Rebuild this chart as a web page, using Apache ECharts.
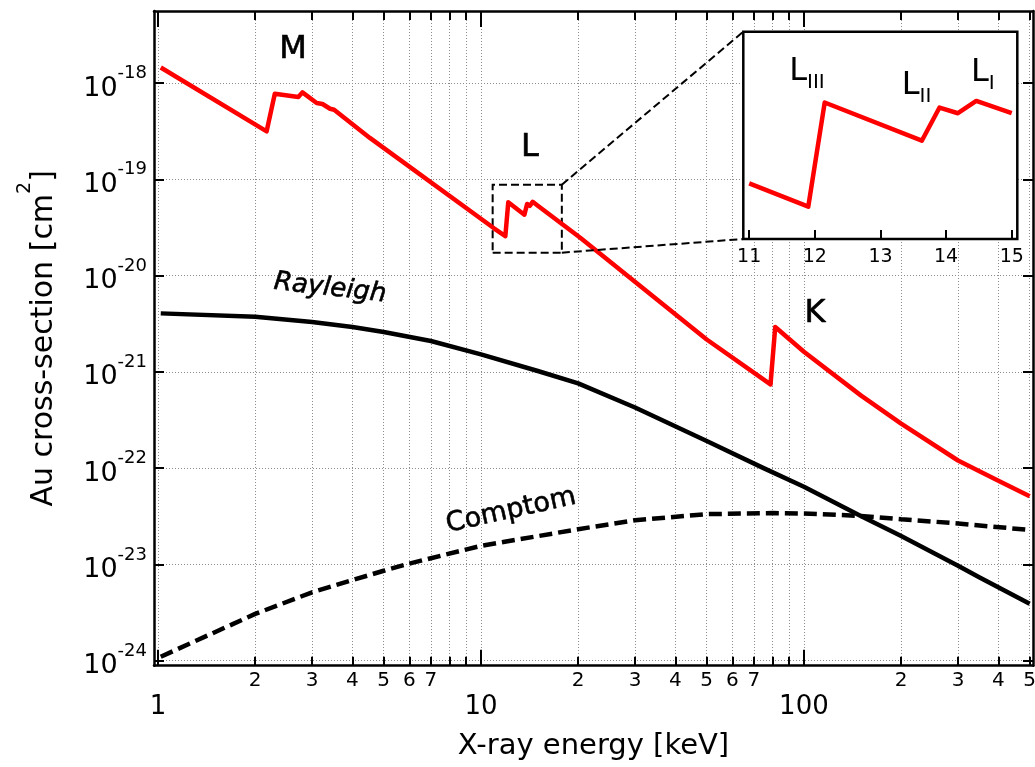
<!DOCTYPE html>
<html>
<head>
<meta charset="utf-8">
<script src="https://cdn.jsdelivr.net/npm/echarts@6/dist/echarts.min.js"></script>
<style>
  html, body { margin: 0; padding: 0; background: #fff; }
  #chart { width: 1035px; height: 767px; }
</style>
</head>
<body>
<div id="chart"></div>
<script>
// Axis ranges: photon energy [keV] and cross-section [cm^2]
const energyRange = [0.972, 512];
const sigmaRange = [8.87e-25, 5.6e-18];

// Tick values
const majorEnergyTicks = [1, 10, 100];
const minorEnergyTicks = [2, 3, 4, 5, 6, 7, 8, 9, 20, 30, 40, 50, 60, 70, 80, 90, 200, 300, 400, 500];
const minorEnergyLabels = [2, 3, 4, 5, 6, 7, 20, 30, 40, 50, 60, 70, 200, 300, 400, 500];
const sigmaTicks = [1e-24, 1e-23, 1e-22, 1e-21, 1e-20, 1e-19, 1e-18];

// Photoabsorption of Au with M, L and K edges: [energy keV, sigma cm^2]
const photoelectric = [
  [1.02, 1.45e-18], [2.17, 3.15e-19], [2.30, 7.74e-19], [2.72, 7.16e-19],
  [2.80, 8.0e-19], [3.10, 6.2e-19], [3.23, 6.06e-19], [3.41, 5.41e-19],
  [3.51, 5.28e-19], [4.53, 2.69e-19], [11.0, 3.08e-20], [11.9, 2.57e-20],
  [12.15, 5.77e-20], [13.63, 4.29e-20], [13.9, 5.55e-20], [14.18, 5.31e-20],
  [14.46, 5.84e-20], [15.0, 5.31e-20], [20.3, 2.47e-20], [50, 2.17e-21],
  [78.8, 7.4e-22], [81.5, 2.92e-21], [100, 1.62e-21], [150, 5.7e-22],
  [200, 2.9e-22], [300, 1.2e-22], [400, 7.4e-23], [500, 5.1e-23]
];

// Coherent (Rayleigh) scattering
const rayleigh = [
  [1.02, 4.05e-21], [2, 3.74e-21], [3, 3.29e-21], [4, 2.92e-21], [5, 2.59e-21],
  [7, 2.09e-21], [10, 1.52e-21], [15, 1.02e-21], [20, 7.6e-22], [30, 4.26e-22],
  [50, 1.91e-22], [75, 1.0e-22], [100, 6.4e-23], [150, 3.19e-23], [200, 1.97e-23],
  [300, 9.7e-24], [350, 7.3e-24], [500, 3.9e-24]
];

// Incoherent (Compton) scattering
const compton = [
  [1.02, 1.10e-24], [2, 3.06e-24], [3, 5.13e-24], [4, 6.87e-24], [5, 8.59e-24],
  [6, 1.02e-23], [7, 1.16e-23], [10, 1.56e-23], [20, 2.32e-23], [30, 2.88e-23],
  [50, 3.33e-23], [80, 3.41e-23], [100, 3.38e-23], [150, 3.19e-23], [200, 2.95e-23],
  [300, 2.66e-23], [500, 2.28e-23]
];

// Magnified L-edge region
const zoomBox = [[10.87, 1.73e-20], [17.8, 8.8e-20]];
const insetEnergyRange = [10.91, 15.085];
const insetSigmaRange = [2e-20, 1e-19];
const insetEnergyTicks = [11, 12, 13, 14, 15];
const insetDataRange = [11, 15];

// Text annotations placed in data coordinates
const edgeLabels = [
  { name: 'M', value: [2.62, 2.24e-18] },
  { name: 'L', value: [14.18, 2.13e-19] },
  { name: 'K', value: [108.2, 4.05e-21] }
];
const curveLabels = [
  { name: 'Rayleigh', value: [3.41, 7.34e-21], rotate: -6.5, style: 'ital' },
  { name: 'Comptom', value: [12.39, 3.6e-23], rotate: 12.5, style: 'curve' }
];
const insetLabels = [
  { name: 'L', sub: 'III', value: [11.88, 7.2e-20] },
  { name: 'L', sub: 'II', value: [13.55, 6.43e-20] },
  { name: 'L', sub: 'I', value: [14.56, 7.14e-20] }
];

const FONT = 'DejaVu Sans';
const lg = Math.log10;
const gridLine = { show: true, lineStyle: { color: '#8c8c8c', width: 1, type: [1, 2] } };
const tickStyle = { color: '#000', width: 2 };
const frameLine = { show: true, onZero: false, lineStyle: { color: '#000', width: 2.5 } };
const hiddenSymbol = { color: 'rgba(0,0,0,0)', opacity: 1 };

// Decorative axis in log10 space, aligned with the hidden log axis that carries the data
function energyDecor(position, ticks, length, extra) {
  return Object.assign({
    type: 'value', gridIndex: 0, position: position,
    min: lg(energyRange[0]), max: lg(energyRange[1]),
    axisLine: { show: false },
    axisTick: { show: true, inside: true, length: length, lineStyle: tickStyle, customValues: ticks.map(lg) },
    axisLabel: { show: false },
    splitLine: { show: false }
  }, extra || {});
}
function sigmaDecor(position, extra) {
  return Object.assign({
    type: 'value', gridIndex: 0, position: position,
    min: lg(sigmaRange[0]), max: lg(sigmaRange[1]),
    axisLine: frameLine,
    axisTick: { show: true, inside: true, length: 10, lineStyle: tickStyle, customValues: sigmaTicks.map(lg) },
    axisLabel: { show: false },
    splitLine: { show: false }
  }, extra || {});
}

const chart = echarts.init(document.getElementById('chart'), null, { renderer: 'canvas' });

const option = {
  animation: false,
  backgroundColor: '#fff',
  textStyle: { fontFamily: FONT, color: '#000' },
  grid: [
    { left: 154, top: 11, width: 879, height: 654.7, show: false, containLabel: false, outerBoundsMode: 'none' },
    { left: 743.3, top: 31.7, width: 274, height: 207.3, show: true, backgroundColor: '#fff',
      borderColor: '#000', borderWidth: 2.5, containLabel: false, outerBoundsMode: 'none', z: 10 }
  ],
  xAxis: [
    { type: 'log', gridIndex: 0, position: 'bottom', min: energyRange[0], max: energyRange[1], show: false },
    energyDecor('bottom', majorEnergyTicks, 16, {
      axisLine: frameLine,
      axisLabel: {
        show: true, customValues: majorEnergyTicks.map(lg), margin: 27,
        fontFamily: FONT, fontSize: 26, lineHeight: 30, color: '#000',
        formatter: v => String(Math.round(Math.pow(10, v)))
      },
      splitLine: gridLine,
      name: 'X-ray energy [keV]', nameLocation: 'middle', nameGap: 64,
      nameTextStyle: { fontFamily: FONT, fontSize: 29, lineHeight: 34, color: '#000' }
    }),
    energyDecor('bottom', minorEnergyTicks, 9, {
      axisLabel: {
        show: true, customValues: minorEnergyLabels.map(lg), margin: 4,
        fontFamily: FONT, fontSize: 20, lineHeight: 22, color: '#000',
        formatter: v => String(Math.round(Math.pow(10, v))).charAt(0)
      },
      splitLine: gridLine
    }),
    energyDecor('top', majorEnergyTicks, 16, { axisLine: frameLine }),
    energyDecor('top', minorEnergyTicks, 9),
    {
      type: 'value', gridIndex: 1, position: 'bottom', z: 11,
      min: insetEnergyRange[0], max: insetEnergyRange[1],
      axisLine: { show: false },
      axisTick: { show: true, inside: true, length: 9, lineStyle: tickStyle, customValues: insetEnergyTicks },
      axisLabel: { show: true, customValues: insetEnergyTicks, margin: 8, fontFamily: FONT, fontSize: 19, lineHeight: 20, color: '#000' },
      splitLine: { show: false }
    }
  ],
  yAxis: [
    { type: 'log', gridIndex: 0, position: 'left', min: sigmaRange[0], max: sigmaRange[1], show: false },
    sigmaDecor('left', {
      axisLabel: {
        show: true, customValues: sigmaTicks.map(lg), margin: 7,
        formatter: v => '{b|10}{s|' + Math.round(v) + '}',
        rich: {
          b: { fontFamily: FONT, fontSize: 27, lineHeight: 30, padding: [11, 0, 0, 0], color: '#000' },
          s: { fontFamily: FONT, fontSize: 18, lineHeight: 22, padding: [0, 0, 19, 0], color: '#000' }
        }
      },
      splitLine: gridLine,
      name: '{t|Au cross-section [cm}{s|2}{t|]}', nameLocation: 'middle', nameGap: 100, nameRotate: 90,
      nameTextStyle: {
        rich: {
          t: { fontFamily: FONT, fontSize: 30, lineHeight: 34, padding: [14, 0, 0, 0], color: '#000' },
          s: { fontFamily: FONT, fontSize: 19, lineHeight: 24, padding: [0, 0, 24, 0], color: '#000' }
        }
      }
    }),
    sigmaDecor('right'),
    { type: 'log', gridIndex: 1, position: 'left', min: insetSigmaRange[0], max: insetSigmaRange[1], show: false }
  ],
  series: [
    {
      name: 'Rayleigh', type: 'line', xAxisIndex: 0, yAxisIndex: 0, data: rayleigh,
      symbol: 'none', z: 3,
      lineStyle: { color: '#000', width: 4.5, join: 'round' }
    },
    {
      name: 'Compton', type: 'line', xAxisIndex: 0, yAxisIndex: 0, data: compton,
      symbol: 'none', z: 3,
      lineStyle: { color: '#000', width: 4.5, type: [13, 6] }
    },
    {
      name: 'Photoabsorption', type: 'line', xAxisIndex: 0, yAxisIndex: 0, data: photoelectric,
      symbol: 'none', z: 4,
      lineStyle: { color: '#ff0000', width: 4.5, join: 'round' },
      markArea: {
        silent: true,
        itemStyle: { color: 'rgba(0,0,0,0)', borderColor: '#000', borderWidth: 2, borderType: [8, 4] },
        data: [[{ coord: zoomBox[0] }, { coord: zoomBox[1] }]]
      }
    },
    {
      name: 'labels', type: 'scatter', xAxisIndex: 0, yAxisIndex: 0, z: 6,
      symbolSize: 1, itemStyle: hiddenSymbol, silent: true,
      data: edgeLabels.map(d => ({ name: d.name, value: d.value, style: 'edge' }))
        .concat(curveLabels.map(d => ({ name: d.name, value: d.value, style: d.style, label: { rotate: d.rotate } }))),
      label: {
        show: true, position: 'inside', color: '#000', opacity: 1,
        formatter: p => '{' + p.data.style + '|' + p.data.name + '}',
        rich: {
          edge: { fontFamily: FONT, fontSize: 32, color: '#000', textBorderColor: '#000', textBorderWidth: 0.6 },
          ital: { fontFamily: FONT, fontSize: 26, fontStyle: 'italic', color: '#000', textBorderColor: '#000', textBorderWidth: 0.6 },
          curve: { fontFamily: FONT, fontSize: 27, color: '#000', textBorderColor: '#000', textBorderWidth: 0.6 }
        }
      }
    },
    {
      name: 'L edges', type: 'line', xAxisIndex: 5, yAxisIndex: 3, z: 12,
      data: photoelectric.filter(p => p[0] >= insetDataRange[0] && p[0] <= insetDataRange[1]),
      symbol: 'none', lineStyle: { color: '#ff0000', width: 4.5, join: 'round' }
    },
    {
      name: 'L labels', type: 'scatter', xAxisIndex: 5, yAxisIndex: 3, z: 13,
      symbolSize: 1, itemStyle: hiddenSymbol, silent: true,
      data: insetLabels.map(d => ({ name: d.name, sub: d.sub, value: d.value })),
      label: {
        show: true, position: 'inside', opacity: 1,
        formatter: p => '{l|' + p.data.name + '}{s|' + p.data.sub + '}',
        rich: {
          l: { fontFamily: FONT, fontSize: 32, lineHeight: 36, padding: [0, 0, 5, 0], color: '#000' },
          s: { fontFamily: FONT, fontSize: 20, lineHeight: 24, padding: [17, 0, 0, 0], color: '#000' }
        }
      }
    }
  ]
};

chart.setOption(option);

// Dashed connectors from the zoom box to the inset corners
const mainAxes = { xAxisIndex: 0, yAxisIndex: 0 };
const insetAxes = { xAxisIndex: 5, yAxisIndex: 3 };
const boxTopRight = chart.convertToPixel(mainAxes, [zoomBox[1][0], zoomBox[1][1]]);
const boxBottomRight = chart.convertToPixel(mainAxes, [zoomBox[1][0], zoomBox[0][1]]);
const insetTopLeft = chart.convertToPixel(insetAxes, [insetEnergyRange[0], insetSigmaRange[1]]);
const insetBottomLeft = chart.convertToPixel(insetAxes, [insetEnergyRange[0], insetSigmaRange[0]]);
const connectorStyle = { stroke: '#000', lineWidth: 2, lineDash: [8, 4], fill: null };
chart.setOption({
  graphic: [
    { type: 'line', z: 20, silent: true, style: connectorStyle,
      shape: { x1: boxTopRight[0], y1: boxTopRight[1], x2: insetTopLeft[0], y2: insetTopLeft[1] } },
    { type: 'line', z: 20, silent: true, style: connectorStyle,
      shape: { x1: boxBottomRight[0], y1: boxBottomRight[1], x2: insetBottomLeft[0], y2: insetBottomLeft[1] } }
  ]
});
</script>
</body>
</html>
